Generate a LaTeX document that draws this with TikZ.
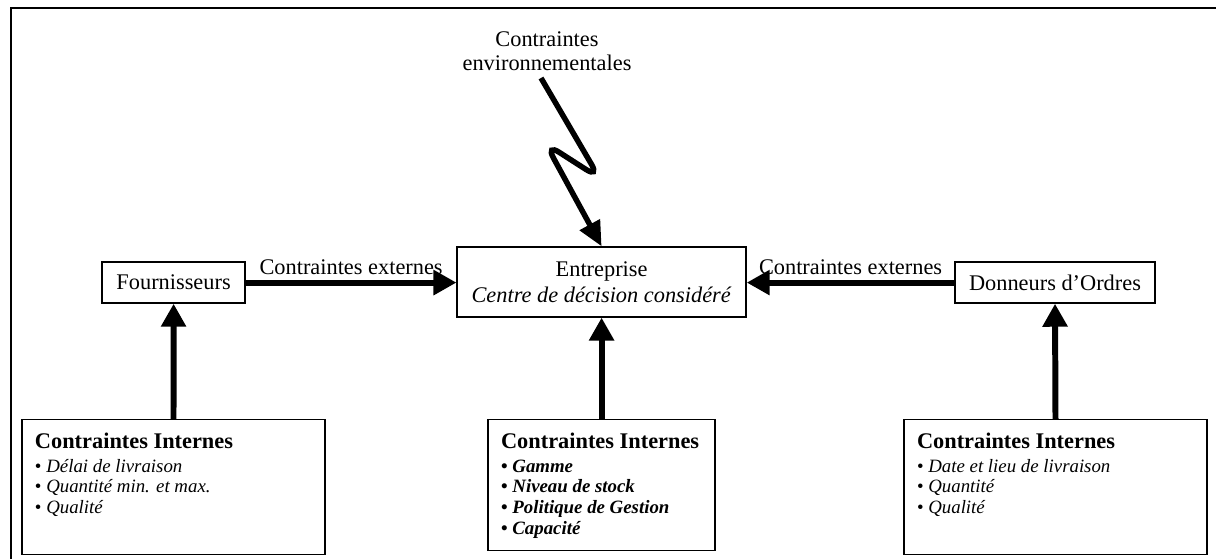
\documentclass[tikz,border=0pt]{standalone}
\usepackage{fontspec}
\setmainfont{Liberation Serif}
\usepackage{tikz}
\usetikzlibrary{arrows.meta, positioning}
\newcommand{\diagfont}{\fontsize{15.9}{19}\selectfont}
\newcommand{\itemfont}{\fontsize{13.4}{14.9}\selectfont}
\newcommand{\puce}[1]{\textbullet\ \textit{#1}\par}
\tikzset{
  box/.style={rectangle, draw=black, line width=0.9pt, align=center,
    font=\diagfont, inner sep=2pt},
  intbox/.style={rectangle, draw=black, line width=0.9pt, anchor=north,
    inner xsep=0.325cm, inner ysep=0.325cm, font=\diagfont},
  bigarrow/.style={-{Triangle[length=0.575cm, width=0.6cm]}, line width=4.25pt},
  zigarrow/.style={-{Triangle[length=0.62cm, width=0.55cm]}, line width=3.9pt,
    rounded corners=0.4cm},
  frameline/.style={line width=1.4pt}
}

\begin{document}
\begin{tikzpicture}[font=\diagfont]
  \useasboundingbox (0,0) rectangle (30.4,13.975);
  % Frame
  \draw[frameline] (0.275,0) -- (0.275,13.775) -- (30.4,13.775);

  % Main boxes
  \node[box, minimum width=3.575cm, minimum height=1.025cm] (four) at (4.34,6.91) {Fournisseurs};
  \node[box, minimum width=7.225cm, minimum height=1.75cm] (ent) at (15.04,6.925)
    {Entreprise\\[-0.6pt]\textit{Centre de décision considéré}};
  \node[box, minimum width=5cm, minimum height=1.025cm] (donn) at (26.375,6.91) {Donneurs d’Ordres};

  % Environment
  \node[align=center, font=\fontsize{15.9}{17}\selectfont] (env) at (13.675,12.7)
    {Contraintes\\environnementales};
  \coordinate (zstart) at (13.525,12.025);
  \coordinate (zb1) at (14.99,9.52);
  \coordinate (zb2) at (13.64,10.385);
  \draw[zigarrow] (zstart) -- (zb1) -- (zb2) -- (ent.north);

  % Internal constraints
  \node[intbox] (intF) at (4.3375,3.5) {\begin{minipage}[t][2.725cm][t]{6.925cm}\parskip=0pt
    {\diagfont\bfseries Contraintes Internes\par}\vspace{2.1pt}\itemfont
    \puce{Délai de livraison}
    \puce{Quantité min. et max.}
    \puce{Qualité}
  \end{minipage}};
  \node[intbox] (intE) at (15.04,3.5) {\begin{minipage}[t][2.625cm][t]{5.025cm}\parskip=0pt
    {\diagfont\bfseries Contraintes Internes\par}\vspace{2.1pt}\itemfont\bfseries
    \puce{Gamme}
    \puce{Niveau de stock}
    \puce{Politique de Gestion}
    \puce{Capacité}
  \end{minipage}};
  \node[intbox] (intD) at (26.3875,3.5) {\begin{minipage}[t][2.725cm][t]{6.925cm}\parskip=0pt
    {\diagfont\bfseries Contraintes Internes\par}\vspace{2.1pt}\itemfont
    \puce{Date et lieu de livraison}
    \puce{Quantité}
    \puce{Qualité}
  \end{minipage}};

  % Arrows
  \draw[bigarrow] (four.east) -- (four.east -| ent.west) node[midway, above] (extL) {Contraintes externes};
  \draw[bigarrow] (donn.west) -- (donn.west -| ent.east) node[midway, above] (extR) {Contraintes externes};
  \draw[bigarrow] (intF.north) -- (four.south);
  \draw[bigarrow] (intE.north) -- (ent.south);
  \draw[bigarrow] (intD.north) -- (donn.south);
\end{tikzpicture}
\end{document}
